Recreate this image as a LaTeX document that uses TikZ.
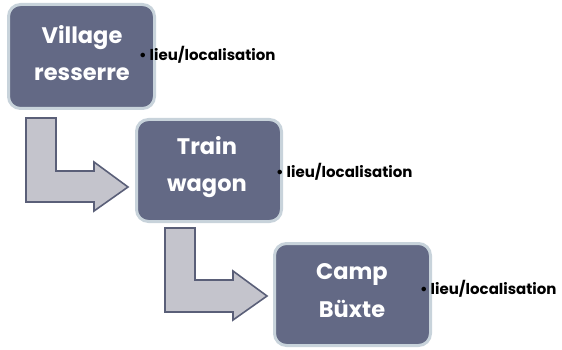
\documentclass[tikz,border=0pt]{standalone}
\usepackage{fontspec}
\setmainfont{Poppins}
\definecolor{boxfill}{HTML}{636985}
\definecolor{boxedge}{HTML}{C8D3DB}
\definecolor{arrfill}{HTML}{C4C4CC}
\definecolor{arredge}{HTML}{5A5F78}
\begin{document}
\begin{tikzpicture}[x=1pt,y=-1pt,
  stagebox/.style={draw=boxedge, line width=3pt, fill=boxfill, rounded corners=12pt,
    inner sep=0pt},
  stagetext/.style={text=white, align=center, inner sep=0pt,
    font=\fontsize{22.5}{37}\selectfont\bfseries},
  lab/.style={anchor=west, inner sep=0pt, font=\fontsize{15}{16}\selectfont\bfseries},
  bent/.style={fill=arrfill, draw=arredge, line width=1.6pt, line join=miter}]
\useasboundingbox (0,0) rectangle (562,350);
% boxes
\node[stagebox, minimum width=146pt, minimum height=104pt] (b1) at (81.5,56.5) {};
\node[stagetext] (t1) at (82,53.5) {Village\\resserre};
\node[stagebox, minimum width=145pt, minimum height=102pt] (b2) at (209,170.5) {};
\node[stagetext] (t2) at (207,167.5) {Train\\wagon};
\node[stagebox, minimum width=156pt, minimum height=102pt] (b3) at (352.5,294.5) {};
\node[stagetext, font=\fontsize{22.5}{38}\selectfont\bfseries] (t3) at (352,291) {Camp\\Büxte};
% labels
\node[lab] (l1) at (139,55) {\textbullet\hspace{3pt}lieu/localisation};
\node[lab] (l2) at (276,172) {\textbullet\hspace{3pt}lieu/localisation};
\node[lab] (l3) at (420,289) {\textbullet\hspace{3pt}lieu/localisation};
% bent arrows
\draw[bent] (26,118) -- (56,118) -- (56,171) -- (94,171) -- (94,162) -- (128,187)
  -- (94,211) -- (94,202) -- (26,202) -- cycle;
\draw[bent] (165,228) -- (195,228) -- (195,280) -- (233,280) -- (233,271) -- (267,296)
  -- (233,320) -- (233,312) -- (165,312) -- cycle;
\end{tikzpicture}
\end{document}
